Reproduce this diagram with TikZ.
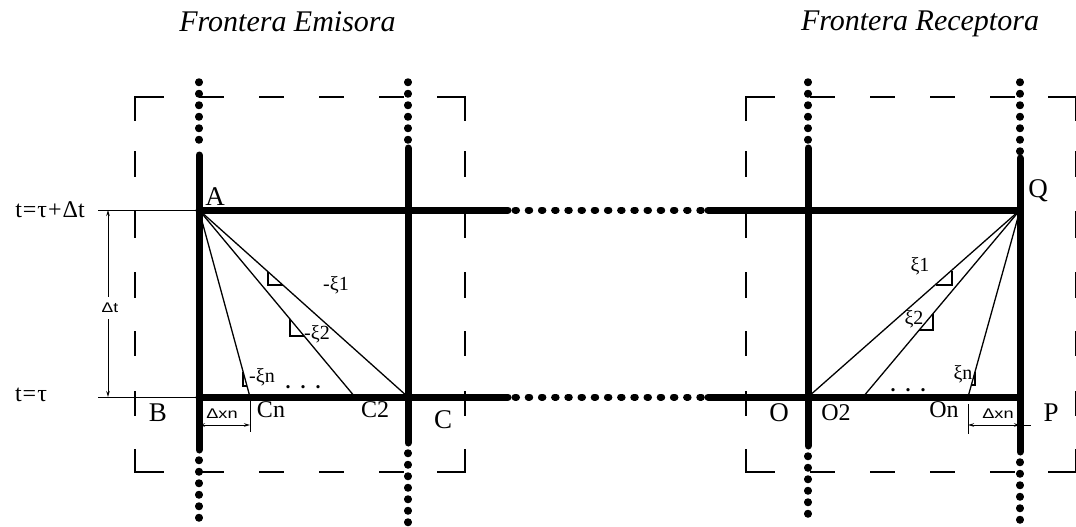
\documentclass[tikz,border=0pt]{standalone}
\usepackage{fontspec}
\setmainfont{Liberation Serif}
\newfontfamily\dimfont{Liberation Sans}
\usetikzlibrary{arrows.meta}
\begin{document}
\begin{tikzpicture}[x=1pt,y=-1pt,
  heavy/.style={line width=7pt,line cap=round},
  dotsv/.style={line width=7.5pt,line cap=round,dash pattern=on 0.5pt off 11pt},
  dotsh/.style={line width=7pt,line cap=round,dash pattern=on 1.5pt off 11.7pt},
  ray/.style={line width=1.3pt},
  rmark/.style={line width=1.1pt},
  dbox/.style={line width=1.4pt,line cap=rect},
  dimline/.style={line width=1pt},
  dimarrows/.style={dimline,{Stealth[length=6pt,width=3.5pt]}-{Stealth[length=6pt,width=3.5pt]}},
  title/.style={font=\fontsize{30}{32}\selectfont\itshape,inner sep=0pt,anchor=base},
  biglab/.style={font=\fontsize{27}{30}\selectfont,inner sep=0pt},
  sublab/.style={font=\fontsize{24}{26}\selectfont,inner sep=0pt},
  xilab/.style={font=\fontsize{20}{22}\selectfont,inner sep=0pt},
  tlab/.style={font=\fontsize{24}{26}\selectfont,inner sep=0pt},
  smalllab/.style={font=\dimfont\fontsize{14}{16}\selectfont,inner sep=1pt}
]
\useasboundingbox (0,0) rectangle (1076,527);

% key points
\coordinate (A) at (199,210);
\coordinate (B) at (199,397);
\coordinate (Ct) at (408,210);
\coordinate (C) at (408,397);
\coordinate (C2) at (355,397);
\coordinate (Cn) at (250,397);
\coordinate (Ot) at (808,210);
\coordinate (O) at (808,397);
\coordinate (O2) at (863,397);
\coordinate (On) at (968,397);
\coordinate (Q) at (1020,210);
\coordinate (P) at (1020,397);

% dashed rectangles
\foreach \ox in {135,746}{
  \foreach \a/\b in {0/28,65/88,125/148,185/208,245/268,303/330}{
    \draw[dbox] (\ox+\a,97) -- (\ox+\b,97);
    \draw[dbox] (\ox+\a,472) -- (\ox+\b,472);
  }
  \foreach \a/\b in {0/23,55/79,115/140,176/200,235/258,295/318,353/375}{
    \draw[dbox] (\ox,97+\a) -- (\ox,97+\b);
    \draw[dbox] (\ox+330,97+\a) -- (\ox+330,97+\b);
  }
}

% vertical boundary lines
\foreach \x/\ts/\te in {199/155/450,408/148/443,808/148/446,1020/158/452}{
  \draw[dotsv] (\x,82) -- (\x,\ts-6);
  \draw[heavy] (\x,\ts) -- (\x,\te);
  \draw[dotsv] (\x,\te+10) -- (\x,523);
}

% horizontal time lines
\foreach \y in {210,397}{
  \draw[heavy] (199,\y) -- (508,\y);
  \draw[dotsh] (515,\y) -- (702,\y);
  \draw[heavy] (708,\y) -- (1020,\y);
}

% rays
\draw[ray] (A) -- (C);
\draw[ray] (A) -- (C2);
\draw[ray] (A) -- (Cn);
\draw[ray] (Q) -- (O);
\draw[ray] (Q) -- (O2);
\draw[ray] (Q) -- (On);

% right-angle marks
\draw[rmark] (268,272) |- (283,285);
\draw[rmark] (290,319) |- (304,336);
\draw[rmark] (243,372) |- (247,386);
\draw[rmark] (952,271) |- (936,285);
\draw[rmark] (933,314) |- (919,330);
\draw[rmark] (975,372) |- (971,385);

% time reference lines
\coordinate (tt) at (98,210);
\coordinate (tb) at (98,397);
\draw[dimline] (tt) -- (A);
\draw[dimline] (tb) -- (B);
\coordinate (dtt) at (108,210);
\coordinate (dtb) at (108,397);
\draw[dimarrows] (dtt) -- (dtb);
\node[smalllab,fill=white,inner ysep=6pt] (dt) at (110,308) {\scalebox{1.25}[1]{Δt}};

% Delta x_n dimensions
\coordinate (dxl1) at (199,425);
\coordinate (dxl2) at (250,425);
\coordinate (tkl) at (250,432);
\draw[dimline] (Cn) -- (tkl);
\draw[dimarrows] (dxl1) -- (dxl2);
\coordinate (tkr1) at (968,404);
\coordinate (tkr2) at (968,434);
\coordinate (dxr1) at (968,425);
\coordinate (dxr2) at (1020,425);
\coordinate (dxr3) at (1031,425);
\draw[dimline] (tkr1) -- (tkr2);
\draw[dimarrows] (dxr1) -- (dxr2);
\draw[dimline] (dxr2) -- (dxr3);
\node[smalllab] (dxnl) at (222,414) {\scalebox{1.3}[1]{Δxn}};
\node[smalllab] (dxnr) at (998,414) {\scalebox{1.3}[1]{Δxn}};

% titles
\node[title] (fe) at (287.5,32) {Frontera Emisora};
\node[title] (fr) at (920,31) {Frontera Receptora};

% time labels
\node[tlab] (ltop) at (50,210) {t\kern1pt=\kern1pt τ\kern1pt+\kern1pt Δt};
\node[tlab] (lbot) at (31,395) {t\kern1pt=\kern1pt τ};

% point labels
\node[biglab] (lA) at (215,197) {A};
\node[biglab] (lB) at (158,413) {B};
\node[biglab] (lC) at (443,420) {C};
\node[biglab] (lO) at (779,413) {O};
\node[biglab] (lP) at (1051,413) {P};
\node[biglab] (lQ) at (1038,191) {Q};
\node[sublab] (lCn) at (271,410) {Cn};
\node[sublab] (lC2) at (375,410) {C2};
\node[sublab] (lO2) at (836,413) {O2};
\node[sublab] (lOn) at (944,410) {On};

% xi labels
\node[xilab] (x1) at (336,285) {-ξ1};
\node[xilab] (x2) at (317,334) {-ξ2};
\node[xilab] (xn) at (262,377) {-ξn};
\node[xilab] (r1) at (920,266) {ξ1};
\node[xilab] (r2) at (914,319) {ξ2};
\node[xilab] (rn) at (963,374) {ξn};
\node[xilab,anchor=base] (dl) at (303,388) {\textbf{.}\hspace{10pt}\textbf{.}\hspace{10pt}\textbf{.}};
\node[xilab,anchor=base] (dr) at (908,391) {\textbf{.}\hspace{10pt}\textbf{.}\hspace{10pt}\textbf{.}};
\end{tikzpicture}
\end{document}
